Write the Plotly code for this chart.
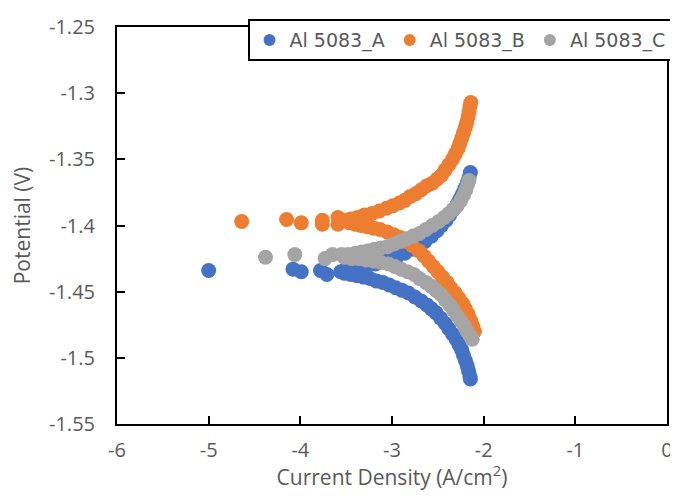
import plotly.graph_objects as go

# ---- Data (Current density log, Potential V) ----
a_x = [-5.00, -4.08, -3.99, -3.78, -3.71, -3.56,
       -3.52, -3.45, -3.38, -3.31, -3.24, -3.17, -3.10, -3.03, -2.96, -2.89,
       -2.82, -2.75, -2.68, -2.62, -2.57, -2.52, -2.47, -2.42, -2.38, -2.34,
       -2.30, -2.27, -2.24, -2.22, -2.20, -2.18, -2.165, -2.15, -2.145,
       -3.50, -3.42, -3.34, -3.26, -3.18, -3.10, -3.02, -2.94, -2.86, -2.78,
       -2.71, -2.64, -2.57, -2.51, -2.46, -2.41, -2.37, -2.33, -2.29, -2.26,
       -2.23, -2.205, -2.18, -2.16, -2.145]
a_y = [-1.434, -1.433, -1.435, -1.434, -1.437, -1.435,
       -1.436, -1.437, -1.438, -1.439, -1.440, -1.442, -1.443, -1.445, -1.447, -1.449,
       -1.451, -1.454, -1.457, -1.460, -1.463, -1.466, -1.470, -1.474, -1.478, -1.482,
       -1.486, -1.490, -1.494, -1.498, -1.502, -1.506, -1.510, -1.514, -1.516,
       -1.433, -1.432, -1.431, -1.430, -1.429, -1.427, -1.425, -1.423, -1.421, -1.418,
       -1.415, -1.412, -1.408, -1.404, -1.400, -1.396, -1.392, -1.388, -1.384, -1.380,
       -1.376, -1.372, -1.368, -1.364, -1.360]

b_x = [-4.64, -4.15, -3.99, -3.76, -3.76, -3.59, -3.59, -3.49,
       -2.10, -2.12, -2.14, -2.17, -2.20, -2.23, -2.27, -2.31, -2.36, -2.40,
       -2.45, -2.50, -2.55, -2.60, -2.65, -2.71, -2.78, -2.84, -2.91, -2.98,
       -3.05, -3.13, -3.20, -3.27, -3.34, -3.40, -3.46,
       -3.45, -3.38, -3.30, -3.22, -3.14, -3.06, -2.99, -2.92, -2.86, -2.80,
       -2.74, -2.68, -2.62, -2.56, -2.51, -2.46, -2.42, -2.38, -2.34, -2.31,
       -2.28, -2.26, -2.24, -2.22, -2.20, -2.185, -2.17, -2.16, -2.15, -2.14]
b_y = [-1.397, -1.3955, -1.398, -1.396, -1.399, -1.394, -1.399, -1.396,
       -1.480, -1.476, -1.472, -1.467, -1.463, -1.459, -1.455, -1.451, -1.447, -1.443,
       -1.439, -1.435, -1.431, -1.427, -1.423, -1.419, -1.415, -1.412, -1.409, -1.407,
       -1.405, -1.403, -1.402, -1.401, -1.400, -1.399, -1.398,
       -1.395, -1.394, -1.392, -1.391, -1.389, -1.387, -1.385, -1.383, -1.381, -1.378,
       -1.376, -1.373, -1.370, -1.368, -1.365, -1.362, -1.358, -1.354, -1.350, -1.346,
       -1.342, -1.338, -1.334, -1.330, -1.326, -1.322, -1.318, -1.314, -1.310, -1.307]

c_x = [-4.38, -4.06, -3.73, -3.65,
       -3.55, -3.48, -3.40, -3.33, -3.26, -3.19, -3.12, -3.05, -2.98, -2.91,
       -2.84, -2.77, -2.70, -2.63, -2.56, -2.49, -2.43, -2.38, -2.33, -2.29,
       -2.25, -2.22, -2.195, -2.175, -2.16,
       -3.52, -3.44, -3.36, -3.28, -3.20, -3.12, -3.04, -2.97, -2.90, -2.83,
       -2.76, -2.70, -2.63, -2.57, -2.52, -2.47, -2.42, -2.37, -2.33, -2.29,
       -2.25, -2.21, -2.18, -2.14, -2.125]
c_y = [-1.424, -1.422, -1.425, -1.422,
       -1.422, -1.422, -1.421, -1.420, -1.419, -1.418, -1.417, -1.416, -1.414, -1.412,
       -1.410, -1.408, -1.406, -1.403, -1.400, -1.397, -1.394, -1.391, -1.388, -1.385,
       -1.381, -1.377, -1.373, -1.369, -1.366,
       -1.424, -1.425, -1.425, -1.426, -1.427, -1.428, -1.429, -1.431, -1.433, -1.435,
       -1.437, -1.440, -1.443, -1.446, -1.449, -1.452, -1.456, -1.460, -1.464, -1.468,
       -1.472, -1.476, -1.480, -1.484, -1.486]

series_names = ["Al 5083_A", "Al 5083_B", "Al 5083_C"]
series_colors = ["#4472C4", "#ED7D31", "#A5A5A5"]

x_ticks = [-6, -5, -4, -3, -2, -1, 0]
x_ticktext = ["-6", "-5", "-4", "-3", "-2", "-1", "0"]
y_ticks = [-1.55, -1.5, -1.45, -1.4, -1.35, -1.3, -1.25]
y_ticktext = ["-1.55", "-1.5", "-1.45", "-1.4", "-1.35", "-1.3", "-1.25"]

fig = go.Figure()
for name, color, xs, ys in zip(series_names, series_colors,
                               [a_x, b_x, c_x], [a_y, b_y, c_y]):
    fig.add_trace(go.Scatter(x=xs, y=ys, mode="markers", name=name,
                             marker=dict(size=15, color=color, line=dict(width=0))))

tick_font = dict(family="Open Sans", size=20, color="#595959")
title_font = dict(family="Open Sans", size=21, color="#595959")
fig.update_layout(
    width=670, height=483,
    margin=dict(l=109, r=5, t=14, b=67),
    paper_bgcolor="white", plot_bgcolor="white",
    showlegend=True,
    legend=dict(orientation="h", x=1.01, xanchor="right", y=1.02, yanchor="top",
                bgcolor="white", bordercolor="black", borderwidth=2,
                font=dict(family="DejaVu Sans", size=19, color="#595959"),
                itemsizing="constant"),
    xaxis=dict(range=[-6, 0], tickvals=x_ticks, ticktext=x_ticktext,
               showgrid=False, zeroline=False, showline=True, mirror=True,
               linecolor="black", linewidth=2, ticks="inside", ticklen=8,
               tickwidth=2, tickcolor="black", tickfont=tick_font,
               ticklabelstandoff=7,
               title=dict(text="Current Density (A/cm<sup>2</sup>)",
                          font=title_font, standoff=8)),
    yaxis=dict(range=[-1.55, -1.25], tickvals=y_ticks, ticktext=y_ticktext,
               showgrid=False, zeroline=False, showline=True, mirror=True,
               linecolor="black", linewidth=2, ticks="inside", ticklen=8,
               tickwidth=2, tickcolor="black", tickfont=tick_font,
               ticklabelstandoff=16,
               title=dict(text="Potential (V)", font=title_font, standoff=14)),
)

fig.write_html("out.html")
